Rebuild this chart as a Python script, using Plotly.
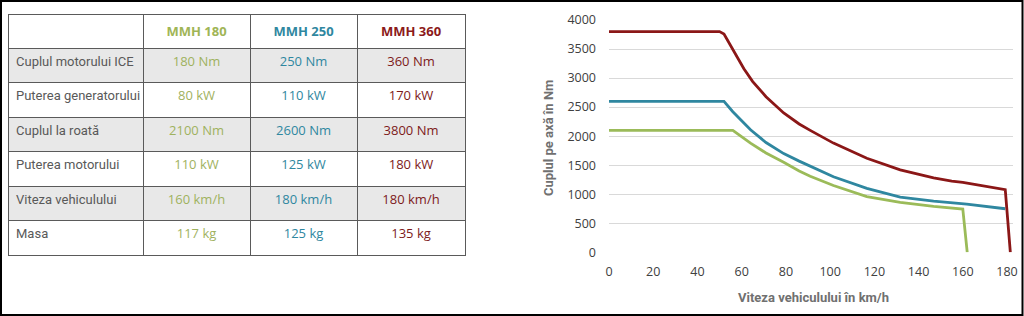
import plotly.graph_objects as go

W, H = 1024, 316

# ---------------- table data ----------------
row_labels = ["Cuplul motorului ICE", "Puterea generatorului", "Cuplul la roată",
              "Puterea motorului", "Viteza vehiculului", "Masa"]
models = ["MMH 180", "MMH 250", "MMH 360"]
mmh180 = ["180 Nm", "80 kW", "2100 Nm", "110 kW", "160 km/h", "117 kg"]
mmh250 = ["250 Nm", "110 kW", "2600 Nm", "125 kW", "180 km/h", "125 kg"]
mmh360 = ["360 Nm", "170 kW", "3800 Nm", "180 kW", "180 km/h", "135 kg"]

# ---------------- chart data ----------------
x_360 = [0, 50, 52, 56, 61, 65, 71, 79, 86, 91, 101.5, 116.6, 131.7, 146.8, 155, 160, 170.8, 179.2, 181.5]
y_360 = [3800, 3800, 3760, 3500, 3160, 2940, 2680, 2400, 2210, 2100, 1880, 1620, 1420, 1280, 1225, 1205, 1135, 1080, 0]

x_250 = [0, 52, 56, 64, 71, 79, 86, 91, 101.5, 116.6, 131.7, 146.8, 161.8, 179.2]
y_250 = [2600, 2600, 2420, 2110, 1890, 1700, 1570, 1480, 1300, 1100, 950, 880, 830, 750]

x_180 = [0, 56, 64, 71, 79, 86, 91, 101.5, 116.6, 131.7, 146.8, 160, 162]
y_180 = [2100, 2100, 1880, 1710, 1550, 1400, 1310, 1150, 960, 860, 790, 745, 0]

x_ticks = [0, 20, 40, 60, 80, 100, 120, 140, 160, 180]
y_ticks = [0, 500, 1000, 1500, 2000, 2500, 3000, 3500, 4000]

GREEN = "#9bbb59"
TEAL = "#2f87a0"
RED = "#8b1717"
GRAY_TXT = "#595959"


def px_x(p):
    return p / W


def px_y(p):
    return (H - p) / H


def nowrap(s):
    return s.replace(" ", "\u00a0")


fig = go.Figure()

gray = "#e8e8e8"
white = "#ffffff"
row_fill = [gray, white, gray, white, gray, white]

fig.add_trace(go.Table(
    domain=dict(x=[px_x(8), px_x(465)], y=[px_y(262), px_y(14)]),
    columnwidth=[135, 107, 107, 108],
    header=dict(
        values=["", "<b>%s</b>" % models[0], "<b>%s</b>" % models[1], "<b>%s</b>" % models[2]],
        fill_color="white",
        line=dict(color="#5a5a5a", width=1),
        align="center",
        height=34,
        font=dict(family="Open Sans", size=13, color=[GRAY_TXT, "#9fb556", TEAL, "#8b1a1a"]),
    ),
    cells=dict(
        values=[[nowrap(s) for s in row_labels], [nowrap(s) for s in mmh180],
                [nowrap(s) for s in mmh250], [nowrap(s) for s in mmh360]],
        fill_color=[row_fill] * 4,
        line=dict(color="#5a5a5a", width=1),
        align=["left", "center", "center", "center"],
        height=34.5,
        font=dict(family=["Roboto", "Open Sans", "Open Sans", "Open Sans"], size=[13, 13, 13, 13],
                  color=[GRAY_TXT, "#9fb25e", TEAL, "#7d1a1a"]),
    ),
))

for xs, ys, col in [(x_180, y_180, GREEN), (x_250, y_250, TEAL), (x_360, y_360, RED)]:
    fig.add_trace(go.Scatter(x=xs, y=ys, mode="lines", line=dict(color=col, width=2.8),
                             showlegend=False, hoverinfo="skip"))

fig.update_layout(
    width=W, height=H,
    margin=dict(l=0, r=0, t=0, b=0, autoexpand=False),
    paper_bgcolor="white", plot_bgcolor="white",
    showlegend=False,
    xaxis=dict(domain=[px_x(609), px_x(1013)], range=[0, 182.7], tickvals=x_ticks,
               showgrid=False, zeroline=False, showline=False, automargin=False,
               tickfont=dict(family="Open Sans", size=12.5, color="#404040"),
               ticklabelstandoff=10),
    yaxis=dict(domain=[px_y(252.3), px_y(20)], range=[0, 4000], tickvals=y_ticks,
               showgrid=True, gridcolor="#d9d9d9", gridwidth=1, zeroline=False, showline=False,
               automargin=False,
               tickfont=dict(family="Open Sans", size=12.5, color="#404040"),
               ticklabelstandoff=12),
    annotations=[
        dict(text="<b>Viteza vehiculului în km/h</b>", xref="paper", yref="paper",
             x=px_x(813), y=px_y(297), showarrow=False, xanchor="center", yanchor="middle",
             font=dict(family="Roboto", size=13, color="#707070")),
        dict(text="<b>Cuplul pe axă în Nm</b>", xref="paper", yref="paper",
             x=px_x(548), y=px_y(138), showarrow=False, xanchor="center", yanchor="middle",
             textangle=-90, font=dict(family="Roboto", size=13, color="#707070")),
    ],
    shapes=[
        dict(type="rect", xref="paper", yref="paper", x0=px_x(1), x1=px_x(1022.5),
             y0=px_y(315), y1=px_y(1), line=dict(color="black", width=2), layer="above"),
    ],
)

fig.write_html("out.html")
